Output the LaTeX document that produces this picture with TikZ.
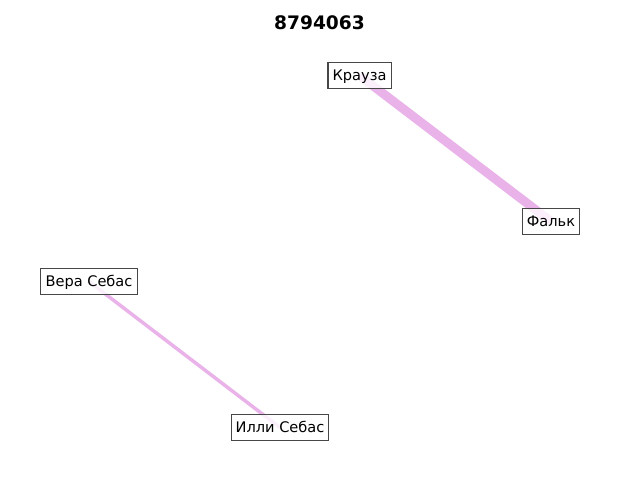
\documentclass[tikz,border=0pt]{standalone}
\usepackage{fontspec}
\setmainfont{DejaVu Sans}
\begin{document}
\begin{tikzpicture}[x=0.72pt,y=-0.72pt,
  lbl/.style={draw=black!72,line width=0.75pt,fill=white,fill opacity=0.8,text opacity=1,
    font=\fontsize{10.5pt}{13pt}\selectfont,inner xsep=3.3pt,inner ysep=3.2pt,text height=9.2pt,text depth=2.6pt},
  edge/.style={draw={rgb,255:red,233;green,178;blue,233}}]
\useasboundingbox (0,0) rectangle (640,480);
\node[font=\fontsize{13.4pt}{15pt}\selectfont\bfseries] (title) at (319.5,23) {8794063};
\coordinate (ck) at (359.5,75.5);
\coordinate (cf) at (551,221.5);
\coordinate (cv) at (89,281.5);
\coordinate (ci) at (280,427.5);
\draw[edge,line width=9*0.72pt] (ck) -- (cf);
\draw[edge,line width=3.5*0.72pt] (cv) -- (ci);
\node[lbl] (k) at (ck) {Крауза};
\node[lbl] (f) at (cf) {Фальк};
\node[lbl] (v) at (cv) {Вера Себас};
\node[lbl] (i) at (ci) {Илли Себас};
\end{tikzpicture}
\end{document}
